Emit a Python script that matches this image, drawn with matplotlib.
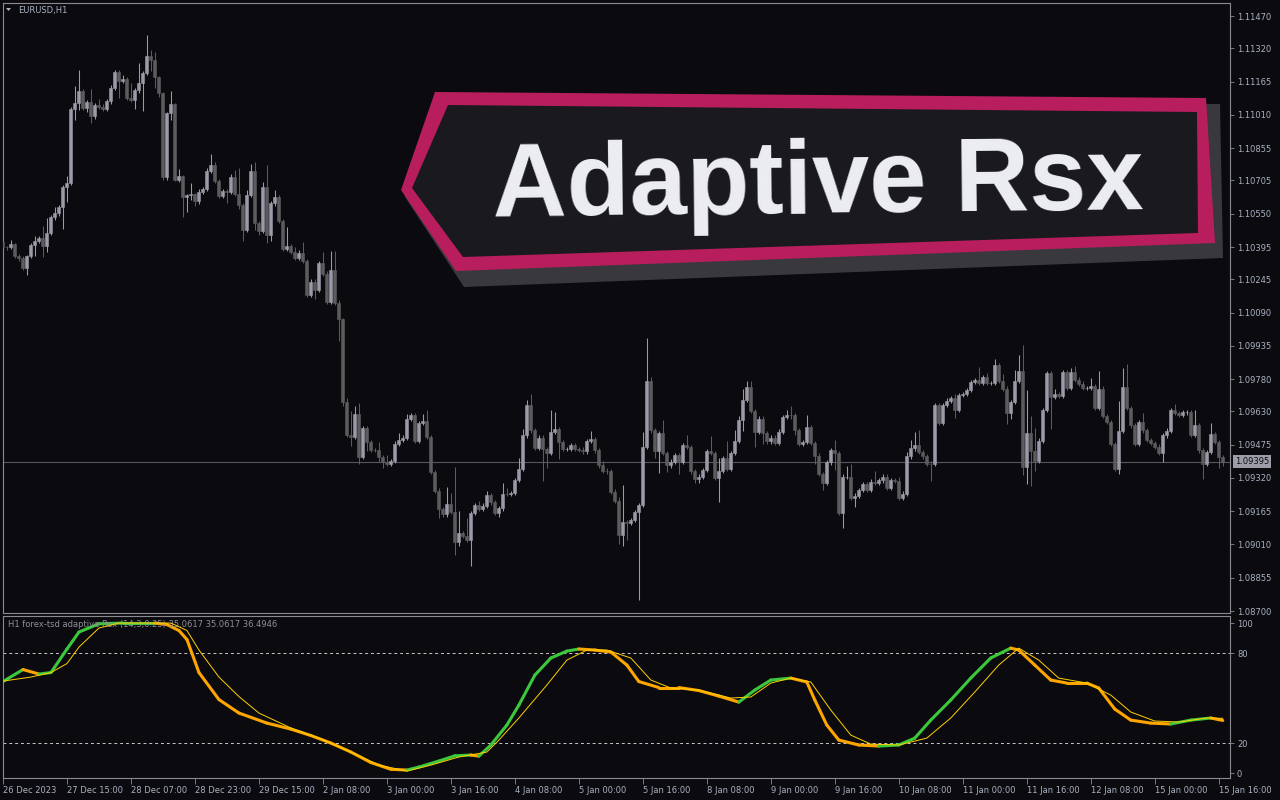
import numpy as np
import matplotlib.pyplot as plt
from matplotlib.collections import LineCollection
from matplotlib.patches import Polygon
import matplotlib.transforms as mtransforms

# MT4 style dark chart, EURUSD H1 with adaptive RSX sub-window
W, H = 1280, 800
BG = '#0b0b0f'
FRAME = '#8a8a90'
TXT = '#a9b1c2'
BULL = '#9a9aa9'
BEAR = '#5c5c5f'
GREEN = '#3cc83c'
ORANGE = '#ffa500'
SIGNAL = '#ffd000'

# ---- data ----
first_open = 1.10416
closes = [
    1.10396, 1.10393, 1.10408, 1.10354, 1.10346, 1.10296, 1.10354, 1.10404, 1.10424, 1.10435,
    1.10400, 1.10461, 1.10533, 1.10551, 1.10579, 1.10673, 1.10695, 1.11037, 1.11065, 1.11120,
    1.11042, 1.11070, 1.11003, 1.11054, 1.11049, 1.11037, 1.11073, 1.11137, 1.11208, 1.11168,
    1.11176, 1.11089, 1.11078, 1.11124, 1.11160, 1.11205, 1.11283, 1.11264, 1.11187, 1.11112,
    1.10719, 1.11018, 1.11059, 1.10707, 1.10727, 1.10626, 1.10635, 1.10643, 1.10607, 1.10653,
    1.10665, 1.10751, 1.10779, 1.10701, 1.10634, 1.10657, 1.10650, 1.10723, 1.10642, 1.10592,
    1.10475, 1.10639, 1.10751, 1.10505, 1.10470, 1.10676, 1.10452, 1.10598, 1.10629, 1.10517,
    1.10388, 1.10400, 1.10374, 1.10346, 1.10369, 1.10330, 1.10171, 1.10234, 1.10195, 1.10321,
    1.10271, 1.10140,
    1.10287, 1.10136, 1.10058, 1.09673, 1.09521, 1.09510, 1.09617, 1.09417, 1.09552, 1.09487,
    1.09451, 1.09449, 1.09415, 1.09396, 1.09387, 1.09399, 1.09480, 1.09497, 1.09508, 1.09596,
    1.09611, 1.09494, 1.09574, 1.09586, 1.09510, 1.09346, 1.09261, 1.09174, 1.09150, 1.09198,
    1.09163, 1.09023, 1.09065, 1.09051, 1.09031, 1.09158, 1.09194, 1.09175, 1.09191, 1.09241,
    1.09206, 1.09158, 1.09178, 1.09245, 1.09244, 1.09251, 1.09310, 1.09362, 1.09518, 1.09661,
    1.09541, 1.09459, 1.09508, 1.09455, 1.09435, 1.09536, 1.09546, 1.09487, 1.09454, 1.09455,
    1.09474, 1.09455, 1.09452, 1.09443, 1.09493, 1.09499, 1.09448, 1.09378, 1.09354, 1.09350,
    1.09256, 1.09213, 1.09054, 1.09116, 1.09110, 1.09124, 1.09160, 1.09194, 1.09466, 1.09770,
    1.09541, 1.09443, 1.09529,
    1.09435, 1.09378, 1.09396, 1.09427, 1.09396, 1.09471, 1.09465, 1.09350, 1.09315, 1.09326,
    1.09357, 1.09443, 1.09435, 1.09318, 1.09354, 1.09412, 1.09360, 1.09435, 1.09494, 1.09588,
    1.09684, 1.09742, 1.09630, 1.09536, 1.09596, 1.09529, 1.09490, 1.09508, 1.09482, 1.09536,
    1.09602, 1.09614, 1.09613, 1.09541, 1.09477, 1.09486, 1.09555, 1.09482, 1.09424, 1.09337,
    1.09295, 1.09392, 1.09448, 1.09435, 1.09158, 1.09326, 1.09326, 1.09225, 1.09238, 1.09264,
    1.09292, 1.09264, 1.09303, 1.09295, 1.09308, 1.09326, 1.09272, 1.09308, 1.09306, 1.09225,
    1.09247, 1.09420, 1.09457, 1.09474, 1.09440, 1.09420, 1.09387, 1.09386, 1.09658,
    1.09575, 1.09658, 1.09680, 1.09692, 1.09638, 1.09705, 1.09711, 1.09728, 1.09767, 1.09775,
    1.09762, 1.09789, 1.09762, 1.09762, 1.09845, 1.09773, 1.09736, 1.09622, 1.09674, 1.09773,
    1.09820, 1.09373, 1.09527, 1.09443, 1.09401, 1.09494, 1.09635, 1.09809, 1.09697, 1.09712,
    1.09703, 1.09812, 1.09739, 1.09812, 1.09778, 1.09759, 1.09739, 1.09740, 1.09747, 1.09645,
    1.09736, 1.09607, 1.09579, 1.09477, 1.09360, 1.09540, 1.09742, 1.09645, 1.09564, 1.09477,
    1.09580, 1.09541, 1.09498, 1.09482, 1.09466, 1.09435, 1.09518, 1.09540, 1.09635, 1.09622,
    1.09614, 1.09625, 1.09625, 1.09521, 1.09564, 1.09448, 1.09384, 1.09440, 1.09524, 1.09487,
    1.09417, 1.09395,
]

# wick lengths beyond the body, in pips
wick_up = [
    0.5, 0.5, 2, 0.5, 1, 0.5, 0.5, 1, 2, 1,
    6, 7, 1, 3, 1, 1, 3, 1, 8, 10,
    1, 1, 6, 1, 3, 1, 1, 1, 1, 1,
    2, 1, 7, 1, 9, 1, 10, 3, 4, 0.5,
    0.5, 0.5, 6, 0.5, 3, 0.5, 0.5, 5, 0.5, 1,
    1, 1, 5, 1, 1, 1, 1, 1, 3, 12,
    1, 2, 3, 4, 1, 2, 10, 1, 3, 1,
    1, 9, 1, 2, 1, 5, 1, 1, 1, 1,
    5, 1,
    9, 9, 1, 0.5, 2, 11, 4, 5, 1, 1,
    1, 1, 4, 1, 3, 1, 1, 3, 1, 2,
    1, 1, 1, 3, 5, 1, 1, 1, 1, 8,
    5, 21, 10, 1, 8, 1, 1, 2, 1, 2,
    1, 1, 1, 5, 3, 1, 1, 5, 3, 2,
    5, 1, 1, 1, 1, 10, 8, 1, 1, 1,
    1, 1, 1, 1, 1, 4, 1, 1, 2, 1,
    1, 1, 2, 17, 1, 1, 1, 1, 7, 20,
    2, 1, 1,
    6, 1, 1, 1, 1, 1, 5, 1, 1, 1,
    1, 1, 7, 1, 6, 1, 8, 1, 5, 2,
    5, 3, 3, 1, 1, 1, 1, 1, 1, 1,
    1, 2, 4, 1, 1, 1, 6, 1, 1, 1,
    1, 1, 1, 5, 1, 1, 5, 6, 1, 1,
    1, 1, 1, 5, 1, 1, 1, 1, 1, 2,
    1, 2, 4, 6, 7, 1, 1, 1, 1,
    1, 1, 1, 1, 2, 1, 1, 1, 1, 1,
    6, 1, 2, 1, 3, 1, 3, 1, 1, 5,
    7, 12, 20, 8, 11, 1, 1, 1, 1, 2,
    1, 1, 1, 2, 3, 1, 1, 1, 4, 1,
    8, 1, 1, 1, 1, 14, 9, 11, 1, 1,
    1, 4, 1, 1, 1, 1, 1, 1, 1, 3,
    1, 1, 1, 1, 7, 1, 1, 1, 5, 1,
    1, 1,
]
wick_dn = [
    0.5, 1, 0.5, 1, 1.5, 1, 3, 1, 5, 1,
    5, 3, 1, 1, 1, 10, 7, 1, 5, 3,
    1, 2, 3, 1, 1, 1, 1, 1, 1, 8,
    1, 1, 1, 4, 1, 13, 1, 5, 5, 2,
    1, 1, 3, 0.5, 1, 9, 7, 2, 2, 1,
    1, 1, 1, 1, 1, 1, 5, 1, 1, 2,
    5, 1, 1, 3, 2, 1, 4, 3, 1, 1,
    1, 1, 1, 1, 1, 1, 1, 1, 4, 1,
    1, 1,
    1, 1, 10, 2, 1, 4, 1, 3, 1, 4,
    1, 1, 2, 3, 1, 1, 1, 1, 1, 1,
    1, 1, 1, 1, 1, 1, 1, 4, 1, 1,
    1, 6, 2, 1, 1, 12, 1, 1, 1, 1,
    1, 1, 2, 1, 1, 1, 1, 1, 1, 1,
    1, 1, 1, 15, 7, 1, 1, 8, 1, 1,
    1, 1, 1, 1, 1, 1, 1, 1, 1, 1,
    1, 1, 4, 5, 8, 1, 1, 41, 1, 1,
    1, 3, 10,
    1, 3, 1, 1, 6, 1, 1, 1, 2, 2,
    1, 1, 1, 1, 11, 1, 1, 1, 1, 1,
    5, 1, 1, 7, 1, 5, 1, 1, 1, 1,
    1, 1, 2, 2, 1, 1, 1, 1, 4, 1,
    3, 1, 1, 8, 1, 7, 1, 1, 4, 1,
    1, 1, 1, 1, 1, 1, 1, 1, 1, 1,
    1, 1, 1, 1, 1, 1, 1, 8, 1,
    1, 1, 1, 1, 4, 1, 1, 1, 1, 1,
    1, 1, 1, 1, 1, 1, 1, 5, 3, 1,
    1, 4, 8, 16, 5, 1, 1, 1, 15, 1,
    1, 1, 1, 1, 1, 1, 1, 1, 1, 1,
    1, 1, 1, 1, 1, 2, 1, 1, 1, 1,
    1, 1, 1, 1, 1, 1, 4, 1, 1, 1,
    1, 1, 1, 1, 1, 1, 7, 1, 1, 1,
    5, 2,
]

last_price = 1.09395
price_ticks = [1.11470, 1.11320, 1.11165, 1.11010, 1.10855, 1.10705, 1.10550, 1.10395,
               1.10245, 1.10090, 1.09935, 1.09780, 1.09630, 1.09475, 1.09320, 1.09165,
               1.09010, 1.08855, 1.08700]

time_tick_bars = [0, 16, 32, 48, 64, 80, 96, 112, 128, 144, 160, 176, 192, 208, 224,
                  240, 256, 272, 288, 304]
time_tick_labels = ['26 Dec 2023', '27 Dec 15:00', '28 Dec 07:00', '28 Dec 23:00',
                    '29 Dec 15:00', '2 Jan 08:00', '3 Jan 00:00', '3 Jan 16:00',
                    '4 Jan 08:00', '5 Jan 00:00', '5 Jan 16:00', '8 Jan 08:00',
                    '9 Jan 00:00', '9 Jan 16:00', '10 Jan 08:00', '11 Jan 00:00',
                    '11 Jan 16:00', '12 Jan 08:00', '15 Jan 00:00', '15 Jan 16:00']

# adaptive RSX (bar index, value)
rsx_bar = [0, 5, 9, 12, 16, 19, 24, 30, 38, 41, 44, 46, 49, 54, 59, 66, 72, 77, 82, 87,
           92, 97, 101, 104, 109, 113, 117, 119, 122, 126, 129, 133, 137, 141, 144, 148,
           152, 156, 159, 164, 169, 174, 179, 184, 188, 192, 197, 201, 203, 206, 209, 214,
           219, 224, 228, 232, 237, 242, 247, 252, 254, 258, 262, 266, 271, 274, 278, 282,
           287, 292, 297, 302, 305]
rsx_val = [61, 69, 66, 67, 82.7, 94, 99.5, 100, 100, 99, 95, 89, 67, 49, 40, 33.3, 29.3,
           25, 20, 14, 7, 2.5, 2, 4, 8, 11.5, 12, 11.3, 18.7, 32, 45.3, 65.3, 76.7, 81.3,
           82.7, 82, 80.7, 72, 61, 57, 57, 55, 51.3, 47.3, 55.3, 62, 63.3, 60.7, 48.7, 32,
           22, 18.7, 18, 18.7, 23.3, 35.3, 48.7, 63.3, 76.7, 83.3, 82, 72, 62, 60, 60,
           56.7, 42.7, 35.3, 33.3, 32.7, 35.3, 36.7, 35.06]

sig_bar = [0, 7, 12, 16, 19, 24, 29, 42, 46, 49, 54, 59, 64, 72, 79, 87, 94, 101, 107,
           114, 121, 124, 129, 136, 141, 146, 151, 157, 162, 167, 174, 182, 187, 192, 197,
           202, 207, 212, 217, 224, 231, 237, 243, 249, 254, 259, 264, 271, 277, 282, 288,
           294, 301, 305]
sig_val = [61.3, 64, 67, 73, 84, 96.7, 100, 100, 95, 82, 64, 51, 40, 30, 23.3, 14, 5.3,
           1.3, 5.3, 10.7, 14, 22, 36.7, 58.7, 75.3, 82, 82, 76.7, 62, 56.7, 55.3, 50,
           50.7, 60, 63.3, 60.7, 42, 25.3, 19.3, 18.7, 23.3, 36.7, 54, 72, 83.3, 75.3,
           63.3, 60, 52, 40.7, 34.7, 34, 36.7, 36.49]

levels = [20, 80]
level_ticks = [0, 20, 80, 100]
label = 'H1 forex-tsd adaptive Rsx (14,3,0.25) 35.0617 35.0617 36.4946'

# ---- figure ----
plt.rcParams['font.family'] = 'DejaVu Sans'
fig = plt.figure(figsize=(W / 100, H / 100), dpi=100, facecolor=BG)


def fx(x):
    return x / W


def fy(y):
    return 1 - y / H


ax = fig.add_axes([fx(3), fy(613), 1227 / W, 610 / H], facecolor=BG)
axi = fig.add_axes([fx(3), fy(778), 1227 / W, 162 / H], facecolor=BG)

for a in (ax, axi):
    for s in a.spines.values():
        s.set_color(FRAME)
        s.set_linewidth(0.8)
    a.set_xlim(0.075, 306.825)

# candles
c = np.array(closes)
o = np.concatenate([[first_open], c[:-1]])
hi = np.maximum(o, c) + np.array(wick_up) / 1e4
lo = np.minimum(o, c) - np.array(wick_dn) / 1e4
bars = np.arange(len(c))
cols = np.where(c >= o, BULL, BEAR)
ax.vlines(bars, lo, hi, colors=cols, linewidth=0.75, zorder=2)
ax.bar(bars, np.abs(c - o), bottom=np.minimum(o, c), width=0.72, color=cols,
       edgecolor=cols, linewidth=0.4, zorder=3)
ax.axhline(last_price, color='#55555f', linewidth=0.8, zorder=1)

ax.set_ylim(1.08691, 1.11531)
ax.set_xticks([])
ax.yaxis.tick_right()
ax.set_yticks(price_ticks)
ax.set_yticklabels([f'{v:.5f}' for v in price_ticks])
ax.tick_params(axis='y', colors=FRAME, labelcolor=TXT, labelsize=6, length=3,
               width=0.6, pad=2)

tr = mtransforms.blended_transform_factory(ax.transAxes, ax.transData)
ax.text(1 + 5 / 1227, last_price, '1.09395', transform=tr, ha='left', va='center',
        fontsize=6, color='#0b0b0f', clip_on=False,
        bbox=dict(boxstyle='square,pad=0.25', fc='#9d9daa', ec='none'))

# indicator
pts = np.column_stack([rsx_bar, rsx_val])
segs = np.stack([pts[:-1], pts[1:]], axis=1)
seg_cols = []
prev = GREEN
for d in np.diff(rsx_val):
    if d > 0:
        prev = GREEN
    elif d < 0:
        prev = ORANGE
    seg_cols.append(prev)
axi.add_collection(LineCollection(segs, colors=seg_cols, linewidths=2.2,
                                  capstyle='round', joinstyle='round', zorder=3))
axi.plot(sig_bar, sig_val, color=SIGNAL, linewidth=0.7, zorder=4)
for lv in levels:
    axi.axhline(lv, color='#c8c8c8', linewidth=0.7, linestyle=(0, (3, 3)), zorder=1)

axi.set_ylim(-3.3, 104.7)
axi.yaxis.tick_right()
axi.set_yticks(level_ticks)
axi.set_yticklabels([str(v) for v in level_ticks])
axi.tick_params(axis='y', colors=FRAME, labelcolor=TXT, labelsize=6, length=3,
                width=0.6, pad=2)
axi.set_xticks(time_tick_bars)
axi.set_xticklabels(time_tick_labels)
axi.tick_params(axis='x', colors=FRAME, labelcolor=TXT, labelsize=6, length=4,
                width=0.6, pad=1.5)
for t in axi.get_xticklabels():
    t.set_ha('left')
axi.text(0.004, 0.975, label, transform=axi.transAxes, ha='left', va='top',
         fontsize=6, color='#8f8f99')

# symbol caption
fig.add_artist(Polygon([(fx(6), fy(8)), (fx(11), fy(8)), (fx(8.5), fy(11))],
                       closed=True, fc=TXT, ec='none', transform=fig.transFigure))
fig.text(fx(18), fy(10), 'EURUSD,H1', fontsize=6, color=TXT, va='center', ha='left')

# title banner
shadow = [(405, 197), (440, 98), (1220, 104), (1223, 258), (464, 287)]
outer = [(401, 190), (435, 92), (1206, 98), (1215, 243), (456, 271)]
inner = [(412, 188), (448, 105), (1197, 112), (1198, 233), (463, 257)]
for pts_px, colr in ((shadow, '#38383d'), (outer, '#b81e5e'), (inner, '#1a191e')):
    fig.add_artist(Polygon([(fx(x), fy(y)) for x, y in pts_px], closed=True, fc=colr,
                           ec='none', transform=fig.transFigure, zorder=5))
fig.text(fx(818), fy(212.5), 'Adaptive Rsx', fontsize=74, fontweight='bold',
         family='Liberation Sans', color='#eeeff3', ha='center', va='baseline',
         rotation=0.6, rotation_mode='anchor', zorder=6)

fig.savefig('out.png', dpi=100, facecolor=BG)
